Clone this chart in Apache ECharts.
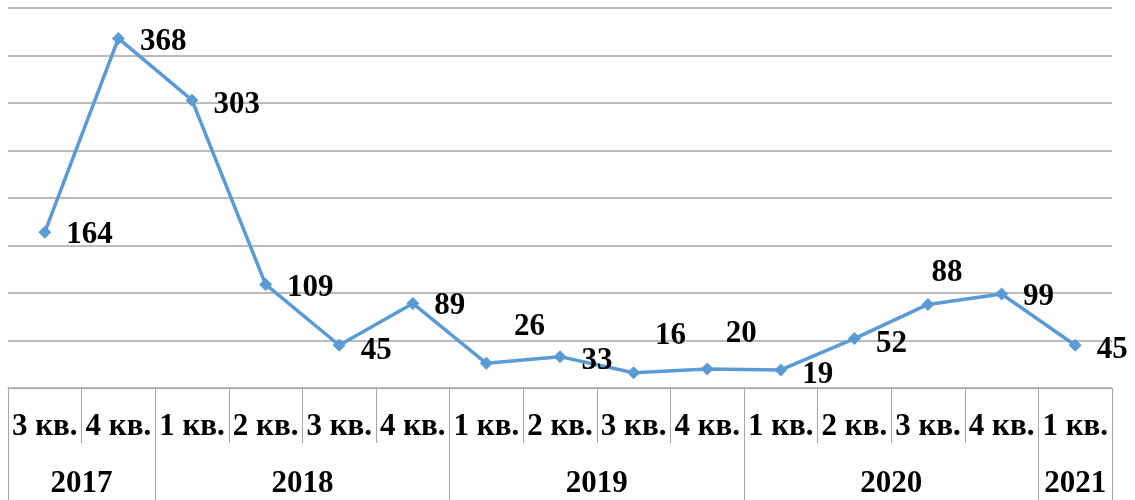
<!DOCTYPE html>
<html>
<head>
<meta charset="utf-8">
<script src="https://cdn.jsdelivr.net/npm/echarts@6/dist/echarts.min.js"></script>
<style>
  html, body { margin: 0; padding: 0; background: #fff; }
  #chart { width: 1135px; height: 500px; }
</style>
</head>
<body>
<div id="chart"></div>
<script>
// кварталы по оси X
var quarters = ['3 кв.', '4 кв.', '1 кв.', '2 кв.', '3 кв.', '4 кв.', '1 кв.', '2 кв.',
                '3 кв.', '4 кв.', '1 кв.', '2 кв.', '3 кв.', '4 кв.', '1 кв.'];
var values = [164, 368, 303, 109, 45, 89, 26, 33, 16, 20, 19, 52, 88, 99, 45];
// годы и сколько кварталов в каждом
var years = ['2017', '2018', '2019', '2020', '2021'];
var yearQuarters = [2, 4, 4, 4, 1];

// сдвиги подписей (стиль, не данные)
var labelShift = {
    0: [0, 3], 1: [0, 4], 2: [0, 5], 3: [0, 4], 4: [0, 6], 5: [0, 3],
    6: [6, -36], 7: [0, 4], 8: [0, -37], 9: [-3, -35],
    10: [0, 5], 11: [0, 5], 12: [-18, -31], 13: [0, 3], 14: [0, 5]
};

var lineGray = '#a6a6a6';
var serif = '"Liberation Serif", "Times New Roman", serif';

// границы годов и центры подписей годов на шкале 0..15
var yearBounds = [0];
var yearCenters = [];
var acc = 0;
for (var i = 0; i < yearQuarters.length; i++) {
    yearCenters.push(acc + yearQuarters[i] / 2);
    acc += yearQuarters[i];
    yearBounds.push(acc);
}

var seriesData = values.map(function (v, i) {
    var item = {value: v};
    if (labelShift[i]) {
        item.label = {offset: labelShift[i]};
    }
    return item;
});

var myChart = echarts.init(document.getElementById('chart'));

var option = {
    animation: false,
    grid: {left: 8, right: 23, top: 8, bottom: 112},
    xAxis: [
        {
            type: 'category',
            data: quarters,
            boundaryGap: true,
            axisLine: {show: true, lineStyle: {color: lineGray, width: 1}},
            axisTick: {show: true, interval: 0, length: 55, lineStyle: {color: lineGray}},
            axisLabel: {
                interval: 0,
                hideOverlap: false,
                margin: 23,
                color: '#000',
                fontFamily: serif,
                fontWeight: 'bold',
                fontSize: 31
            }
        },
        {
            type: 'value',
            position: 'bottom',
            min: 0,
            max: quarters.length,
            axisLine: {show: false},
            splitLine: {show: false},
            axisTick: {
                show: true,
                customValues: yearBounds,
                length: 112,
                lineStyle: {color: lineGray}
            },
            axisLabel: {
                show: true,
                customValues: yearCenters,
                margin: 80,
                color: '#000',
                fontFamily: serif,
                fontWeight: 'bold',
                fontSize: 31,
                formatter: function (val) {
                    var idx = yearCenters.indexOf(val);
                    return idx >= 0 ? years[idx] : '';
                }
            }
        }
    ],
    yAxis: {
        type: 'value',
        min: 0,
        max: 400,
        interval: 50,
        axisLine: {show: false},
        axisTick: {show: false},
        axisLabel: {show: false},
        splitLine: {show: true, lineStyle: {color: lineGray, width: 1.5}}
    },
    series: [
        {
            type: 'line',
            xAxisIndex: 0,
            data: seriesData,
            symbol: 'diamond',
            symbolSize: 13,
            lineStyle: {color: '#5b9bd5', width: 3.5},
            itemStyle: {color: '#5b9bd5'},
            label: {
                show: true,
                position: 'right',
                distance: 15,
                color: '#000',
                fontFamily: serif,
                fontWeight: 'bold',
                fontSize: 31
            }
        }
    ]
};

myChart.setOption(option);
</script>
</body>
</html>
